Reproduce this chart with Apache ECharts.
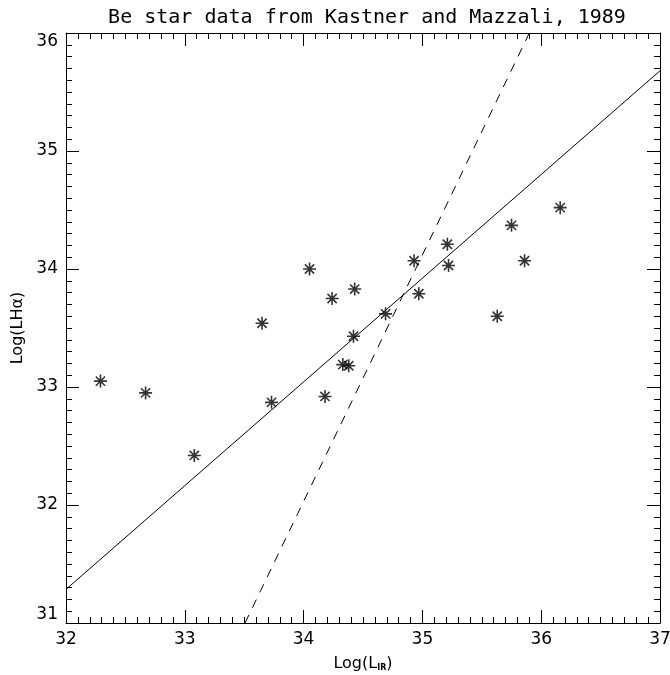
<!DOCTYPE html>
<html>
<head>
<meta charset="utf-8">
<script src="https://cdn.jsdelivr.net/npm/echarts@6/dist/echarts.min.js"></script>
<style>
  html, body { margin: 0; padding: 0; background: #fff; }
  #chart { width: 670px; height: 675px; }
</style>
</head>
<body>
<div id="chart"></div>
<script>
// Be star sample: log infrared luminosity vs log H-alpha luminosity
const logLIR = [32.29, 32.67, 33.08, 33.65, 33.73, 34.05, 34.18, 34.24, 34.33, 34.38,
                34.42, 34.43, 34.69, 34.93, 34.97, 35.21, 35.22, 35.63, 35.75, 35.86, 36.16];
const logLHa = [33.05, 32.95, 32.42, 33.54, 32.87, 34.00, 32.92, 33.75, 33.19, 33.18,
                33.43, 33.83, 33.62, 34.07, 33.79, 34.21, 34.03, 33.60, 34.37, 34.07, 34.52];

// Fit lines, given as end points across the plotted range
const fitSolidX = [32.0, 37.0];
const fitSolidY = [31.285, 35.68];
const fitDashX = [33.507, 35.9];
const fitDashY = [31.0, 36.0];

const xTicks = [32, 33, 34, 35, 36, 37];
const yTicks = [31, 32, 33, 34, 35, 36];

const font = 'DejaVu Sans';
const ink = '#000';

const asterisk = 'path://M10,0L10,20M0,10L20,10M2.9,2.9L17.1,17.1M2.9,17.1L17.1,2.9';

const zip = (a, b) => a.map((v, i) => [v, b[i]]);

function axisBase(min, max, ticks) {
  return {
    type: 'value',
    min: min,
    max: max,
    interval: ticks[1] - ticks[0],
    axisLine: { show: true, onZero: false, lineStyle: { color: ink, width: 1 } },
    axisTick: { show: true, inside: true, length: 13, lineStyle: { color: ink, width: 1 } },
    minorTick: { show: true, splitNumber: 10, length: 6, lineStyle: { color: ink, width: 1 } },
    splitLine: { show: false },
    minorSplitLine: { show: false }
  };
}

const chart = echarts.init(document.getElementById('chart'), null, { renderer: 'canvas' });

chart.setOption({
  backgroundColor: '#fff',
  animation: false,
  title: {
    text: 'Be star data from Kastner and Mazzali, 1989',
    left: 362,
    top: 3,
    textAlign: 'center',
    textStyle: { fontFamily: 'DejaVu Sans Mono', fontSize: 20, fontWeight: 'normal', color: ink }
  },
  grid: { left: 66, right: 10, top: 33, bottom: 52, outerBoundsMode: 'none', containLabel: false },
  xAxis: [
    Object.assign(axisBase(32, 37, xTicks), {
      position: 'bottom',
      axisLabel: { show: true, margin: 8, fontFamily: font, fontSize: 17, color: ink },
      name: '{a|Log(L}{s|IR}{a|)}',
      nameLocation: 'middle',
      nameGap: 33,
      nameTextStyle: {
        rich: {
          a: { fontFamily: font, fontSize: 16, color: ink },
          s: { fontFamily: font, fontSize: 8, color: ink, fontWeight: 'bold', verticalAlign: 'bottom', padding: [6, 0, 0, 0] }
        }
      }
    }),
    Object.assign(axisBase(32, 37, xTicks), {
      position: 'top',
      axisLabel: { show: false }
    })
  ],
  yAxis: [
    Object.assign(axisBase(31, 36, yTicks), {
      position: 'left',
      axisLabel: {
        show: true, margin: 8, fontFamily: font, fontSize: 17, color: ink,
        verticalAlignMinLabel: 'bottom', verticalAlignMaxLabel: 'top'
      },
      name: 'Log(LHα)',
      nameLocation: 'middle',
      nameGap: 40,
      nameRotate: 90,
      nameTextStyle: { fontFamily: font, fontSize: 16, color: ink }
    }),
    Object.assign(axisBase(31, 36, yTicks), {
      position: 'right',
      axisLabel: { show: false }
    })
  ],
  series: [
    {
      type: 'line',
      data: zip(fitSolidX, fitSolidY),
      showSymbol: false,
      lineStyle: { color: ink, width: 1 },
      silent: true
    },
    {
      type: 'line',
      data: zip(fitDashX, fitDashY),
      showSymbol: false,
      lineStyle: { color: ink, width: 1, type: [9, 8] },
      silent: true
    },
    {
      type: 'scatter',
      data: zip(logLIR, logLHa),
      symbol: asterisk,
      symbolSize: 13,
      itemStyle: { color: ink, borderColor: ink, borderWidth: 1.6 }
    }
  ]
});
</script>
</body>
</html>
